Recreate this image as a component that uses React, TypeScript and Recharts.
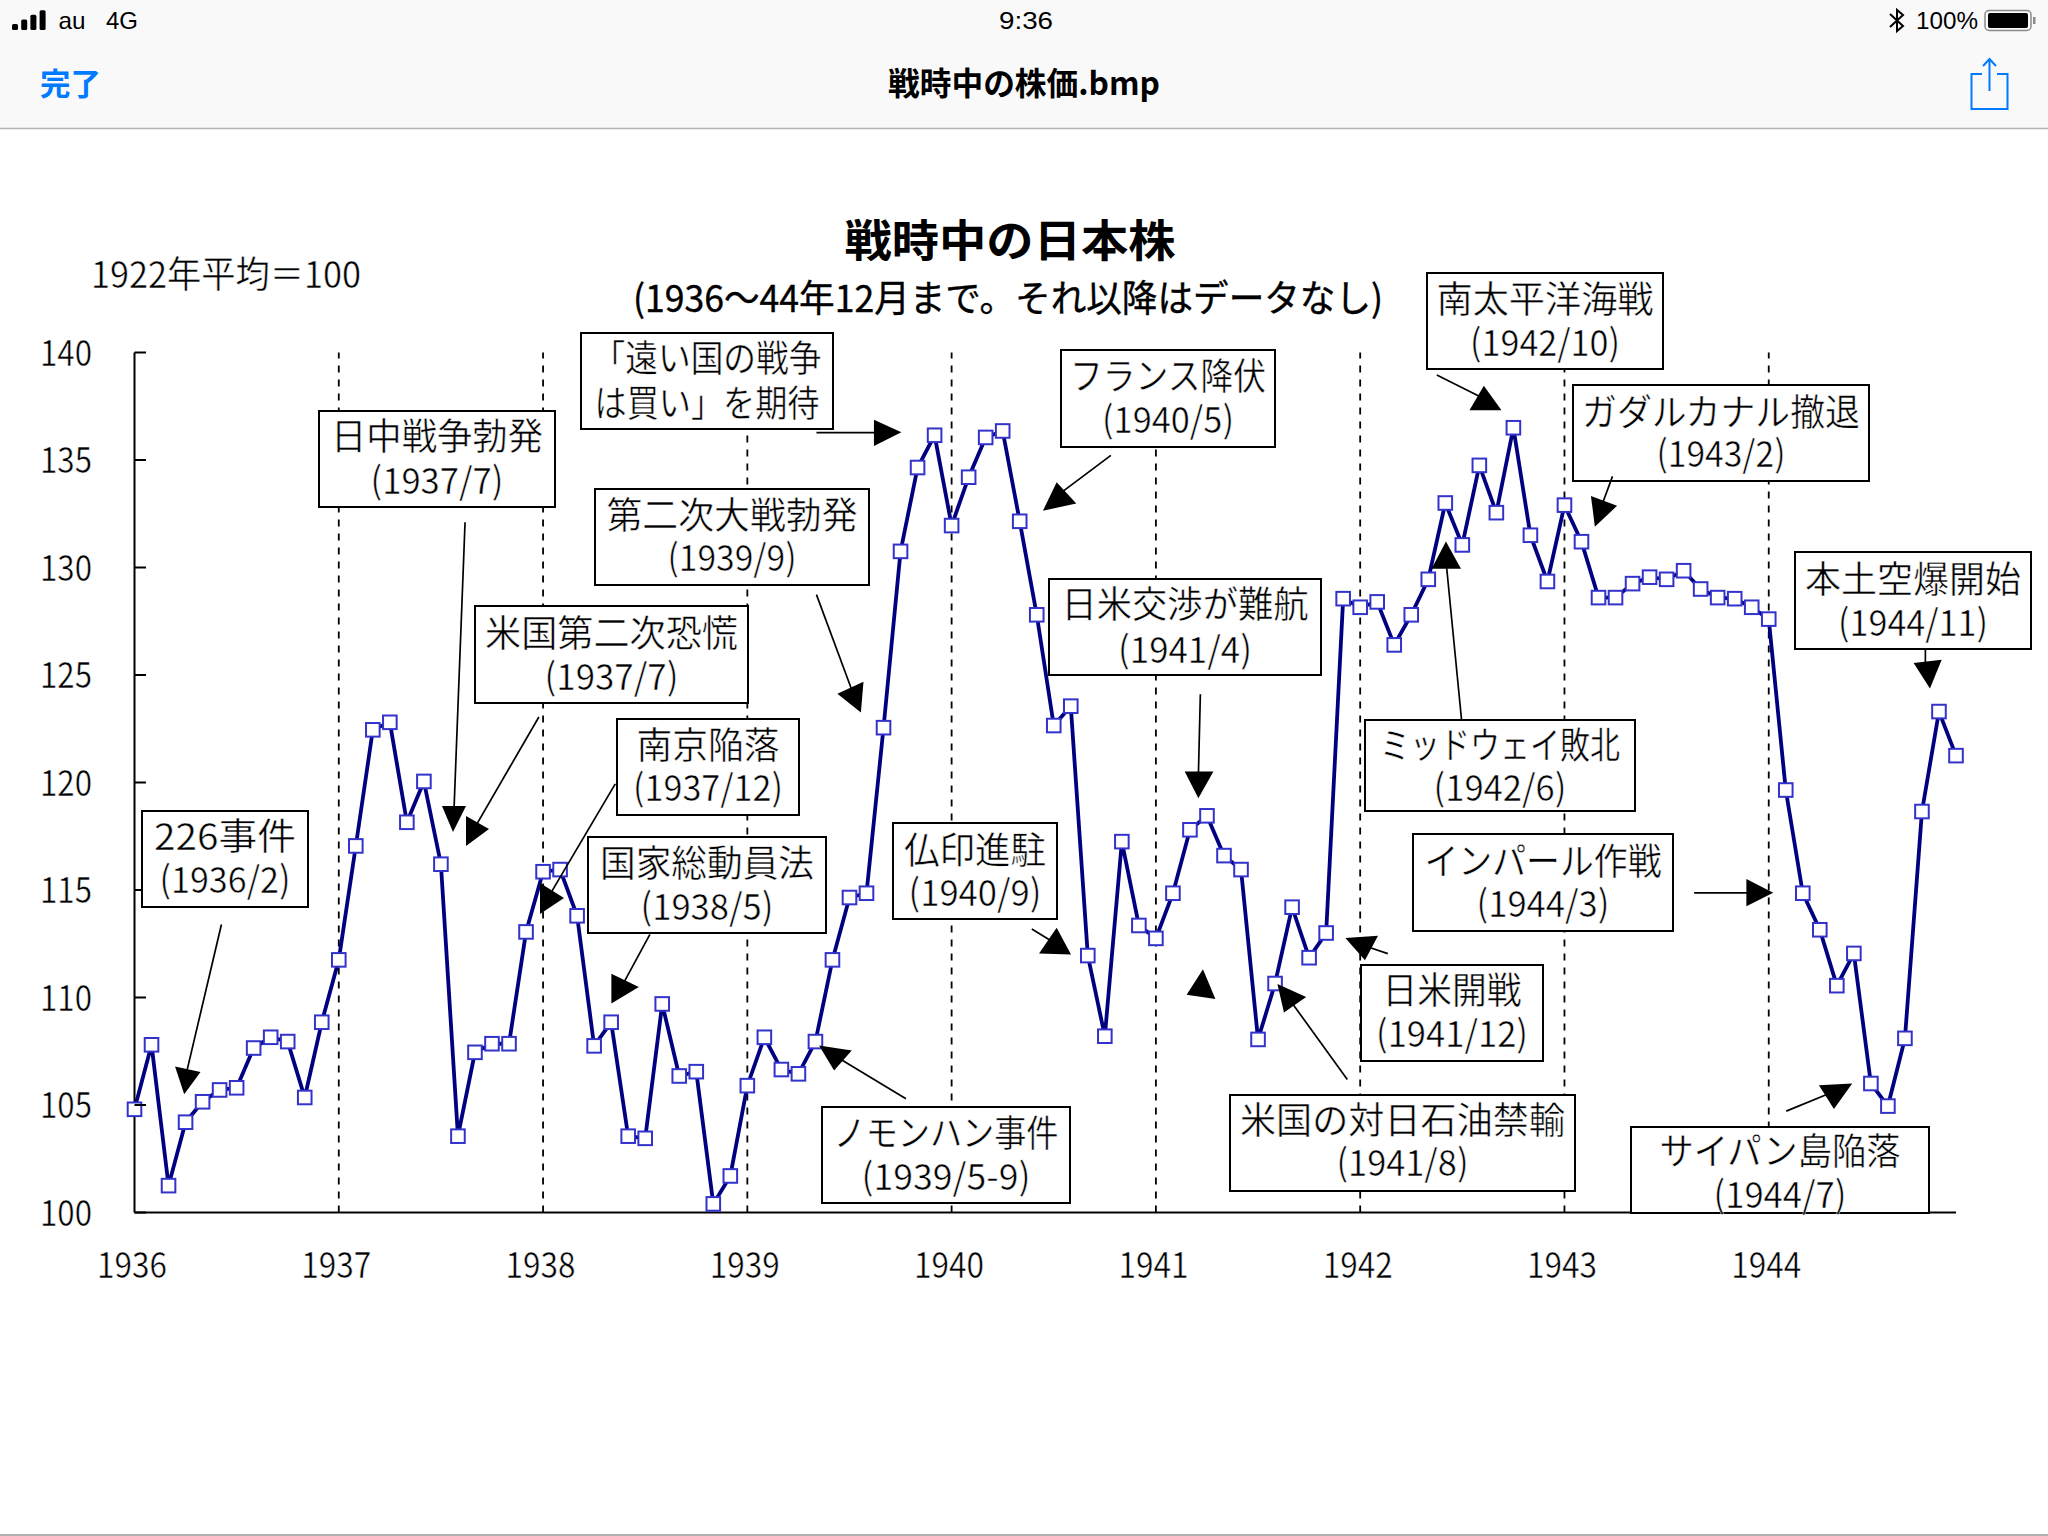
import React from "react";
import { LineChart, Line, XAxis, YAxis, ReferenceLine } from "recharts";

const years = ["1936", "1937", "1938", "1939", "1940", "1941", "1942", "1943", "1944"];
const months = ["01", "02", "03", "04", "05", "06", "07", "08", "09", "10", "11", "12"];
const values1936 = [104.8, 107.8, 101.25, 104.2, 105.15, 105.7, 105.8, 107.65, 108.15, 107.95, 105.35, 108.85];
const values1937 = [111.75, 117.05, 122.45, 122.8, 118.15, 120.05, 116.2, 103.55, 107.45, 107.85, 107.85, 113.05];
const values1938 = [115.85, 115.95, 113.8, 107.75, 108.85, 103.55, 103.45, 109.7, 106.35, 106.55, 100.4, 101.7];
const values1939 = [105.9, 108.15, 106.65, 106.45, 107.95, 111.75, 114.65, 114.85, 122.55, 130.75, 134.65, 136.15];
const values1940 = [131.95, 134.2, 136.05, 136.35, 132.15, 127.8, 122.65, 123.55, 111.95, 108.2, 117.25, 113.35];
const values1941 = [112.75, 114.85, 117.8, 118.45, 116.6, 115.95, 108.05, 110.65, 114.2, 111.85, 113.0, 128.55];
const values1942 = [128.15, 128.4, 126.4, 127.8, 129.45, 133.0, 131.05, 134.75, 132.55, 136.5, 131.5, 129.35];
const values1943 = [132.9, 131.2, 128.6, 128.6, 129.25, 129.55, 129.45, 129.85, 129.0, 128.6, 128.55, 128.15];
const values1944 = [127.6, 119.65, 114.85, 113.15, 110.55, 112.05, 106.0, 104.95, 108.1, 118.65, 123.3, 121.25];
const yTicks = [100, 105, 110, 115, 120, 125, 130, 135, 140];

const allValues = [values1936, values1937, values1938, values1939, values1940, values1941, values1942, values1943, values1944];
const rows = years.flatMap((y, yi) => months.map((m, mi) => ({ month: `${y}-${m}`, year: y, value: allValues[yi][mi] })));
const yearTicks = years.map((y) => `${y}-01`);

// annotation texts: [line1, line2]
const noteTexts = [
  ["日中戦争勃発", "(1937/7)"],
  ["「遠い国の戦争", "は買い」を期待"],
  ["第二次大戦勃発", "(1939/9)"],
  ["米国第二次恐慌", "(1937/7)"],
  ["南京陥落", "(1937/12)"],
  ["国家総動員法", "(1938/5)"],
  ["226事件", "(1936/2)"],
  ["仏印進駐", "(1940/9)"],
  ["ノモンハン事件", "(1939/5-9)"],
  ["フランス降伏", "(1940/5)"],
  ["日米交渉が難航", "(1941/4)"],
  ["南太平洋海戦", "(1942/10)"],
  ["ガダルカナル撤退", "(1943/2)"],
  ["本土空爆開始", "(1944/11)"],
  ["ミッドウェイ敗北", "(1942/6)"],
  ["インパール作戦", "(1944/3)"],
  ["日米開戦", "(1941/12)"],
  ["米国の対日石油禁輸", "(1941/8)"],
  ["サイパン島陥落", "(1944/7)"],
];

// layout of the annotations: box x0,y0,x1,y1, line centres y1,y2, text widths w1,w2
const noteLayout = [
  [319, 411, 555, 507, 437, 481, 212, 133],
  [581, 333, 833, 429, 359, 404, 229, 225],
  [595, 489, 869, 585, 516, 558, 251, 129],
  [475, 606, 748, 703, 634, 677, 253, 134],
  [617, 719, 799, 815, 746, 788, 143, 150],
  [588, 837, 826, 933, 864, 907, 214, 133],
  [142, 811, 308, 907, 837, 880, 142, 131],
  [893, 823, 1057, 919, 851, 893, 142, 133],
  [822, 1107, 1070, 1203, 1134, 1177, 225, 169],
  [1061, 350, 1275, 447, 377, 420, 196, 132],
  [1049, 579, 1321, 675, 605, 650, 247, 134],
  [1427, 273, 1663, 369, 300, 343, 217, 150],
  [1573, 385, 1869, 481, 413, 454, 278, 129],
  [1795, 552, 2031, 649, 580, 623, 216, 150],
  [1365, 720, 1635, 811, 746, 788, 240, 133],
  [1413, 834, 1673, 931, 862, 904, 237, 133],
  [1361, 965, 1543, 1061, 991, 1034, 139, 152],
  [1230, 1095, 1575, 1191, 1121, 1163, 325, 132],
  [1631, 1127, 1929, 1213, 1152, 1195, 241, 133],
];

// helpers to place annotation geometry measured on the page
const q = (ox: number, oy: number) => (x: number, y: number): [number, number] => [ox + x / 1.531, oy + y / 2.24];
const A = q(0, 0);
const B = q(1024, 0);
const C = q(0, 650);
const D = q(1024, 650);

type P = [number, number];
const arrows: { l?: [P, P]; t: [P, P, P] }[] = [
  { l: [C(339, 615), C(285, 950)], t: [C(268, 933), C(307, 945), C(282, 995)] },
  { l: [A(712, 1170), C(695, 360)], t: [[442, 806], [466, 806], [453, 832]] },
  { l: [C(825, 150), C(730, 390)], t: [[466, 816], [489, 829], [466, 846]] },
  { l: [C(942, 300), C(845, 540)], t: [[540, 883], [564, 898], [540, 914]] },
  { l: [C(995, 637), C(955, 745)], t: [C(936, 725), C(978, 755), C(936, 792)] },
  { l: [C(1387, 1005), C(1285, 915)], t: [C(1254, 886), C(1304, 897), C(1277, 942)] },
  { l: [A(1250, 1332), C(1303, 85)], t: [C(1322, 71), C(1282, 98), C(1318, 140)] },
  { l: [A(1250, 969), A(1345, 969)], t: [A(1338, 940), A(1380, 968), A(1338, 999)] },
  { l: [B(133, 1020), B(60, 1100)], t: [B(50, 1080), B(80, 1128), B(29, 1144)] },
  { l: [B(632, 840), B(700, 890)], t: [B(704, 864), B(731, 919), B(682, 919)] },
  { l: [B(901, 1067), B(885, 1130)], t: [B(868, 1111), B(908, 1133), B(874, 1180)] },
  { l: [B(1380, 1454), B(1380, 1490)], t: [B(1362, 1485), B(1405, 1478), B(1387, 1542)] },
  { l: [D(270, 99), D(267, 280)], t: [D(246, 272), D(290, 272), D(267, 332)] },
  { l: [B(647, 1270), D(670, 158)], t: [B(646, 1213), B(669, 1274), B(624, 1274)] },
  { l: [D(12, 625), D(40, 650)], t: [D(50, 622), D(72, 682), D(23, 680)] },
  { t: [D(274, 715), D(293, 782), D(249, 772)] },
  { l: [D(495, 962), D(410, 790)], t: [D(388, 748), D(432, 777), D(398, 812)] },
  { l: [D(557, 680), D(520, 662)], t: [D(492, 645), D(542, 640), D(522, 695)] },
  { l: [D(1026, 544), D(1110, 544)], t: [D(1106, 513), D(1147, 544), D(1106, 574)] },
  { l: [D(1167, 1033), D(1230, 995)], t: [D(1217, 975), D(1268, 971), D(1240, 1028)] },
];

const JP = '"Noto Sans CJK JP", sans-serif';
const UI = '"Liberation Sans", sans-serif';

// thin = white hairline over the glyphs, the reference's bitmap font has very thin strokes
const Label = ({ cx, cy, w, size = 37, weight = 400, color = "#000", family = JP, thin = 0.5, bold = 0, children }: any) => (
  <text
    x={cx}
    y={cy - (family === JP ? 3 : 0)}
    textAnchor="middle"
    dominantBaseline="central"
    textLength={w}
    lengthAdjust="spacingAndGlyphs"
    fontFamily={family}
    fontSize={size}
    fontWeight={weight}
    fill={color}
    stroke={bold ? color : thin ? "#fff" : "none"}
    strokeWidth={bold || thin}
  >
    {children}
  </text>
);

const YTick = ({ x, y, payload }: any) => (
  <g>
    <line x1={x + 41.5} x2={x + 53} y1={y} y2={y} stroke="#000" strokeWidth={2} />
    <Label cx={x - 27} cy={y} w={52}>{payload.value}</Label>
  </g>
);

const XTick = ({ x, y, payload }: any) => (
  <Label cx={x - 2.5} cy={y} w={70}>{payload.value.slice(0, 4)}</Label>
);

const Marker = ({ cx, cy, index }: any) => (
  <rect key={index} x={cx - 6.8} y={cy - 6.8} width={13.6} height={13.6} fill="#fff" stroke="#3333cc" strokeWidth={2} />
);

const Header = () => (
  <g>
    <rect x={0} y={0} width={2048} height={128} fill="#f9f9f9" />
    <line x1={0} x2={2048} y1={128.5} y2={128.5} stroke="#b2b2b2" strokeWidth={1.5} />
    {[0, 1, 2, 3].map((i) => (
      <rect key={i} x={12 + i * 9.2} y={24 - i * 4.6} width={6} height={6 + i * 4.6} rx={1.5} fill="#000" />
    ))}
    <Label cx={72} cy={20} w={27} size={24} family={UI} thin={0}>au</Label>
    <Label cx={122} cy={20} w={32} size={24} family={UI} thin={0}>4G</Label>
    <Label cx={1026} cy={20} w={54} size={24} family={UI} thin={0}>9:36</Label>
    <path d="M1890 14 L1903 26 L1897 31 L1897 10 L1903 15 L1890 27" fill="none" stroke="#000" strokeWidth={2} />
    <Label cx={1947} cy={20} w={62} size={24} family={UI} thin={0}>100%</Label>
    <rect x={1985} y={10.5} width={46} height={20} rx={4} fill="none" stroke="#8a8a8a" strokeWidth={1.5} />
    <rect x={1988} y={13} width={40} height={15} rx={2} fill="#000" />
    <rect x={2033} y={17} width={2.5} height={7} fill="#8a8a8a" />
    <Label cx={70.5} cy={84} w={61} size={31} weight={700} color="#007aff" thin={0}>完了</Label>
    <Label cx={1024} cy={84} w={272} size={32} weight={700} thin={0}>戦時中の株価.bmp</Label>
    <path d="M1982 74 L1971.5 74 L1971.5 109 L2007.5 109 L2007.5 74 L1997 74" fill="none" stroke="#007aff" strokeWidth={2} />
    <path d="M1989.5 91 L1989.5 59 M1983 66 L1989.5 59 L1996 66" fill="none" stroke="#007aff" strokeWidth={2} />
    <line x1={0} x2={2048} y1={1535} y2={1535} stroke="#b2b2b2" strokeWidth={2} />
  </g>
);

const Overlay = () => (
  <svg width={2048} height={1536} style={{ position: "absolute", left: 0, top: 0, pointerEvents: "none" }}>
    <Header />
    <Label cx={1010} cy={241} w={331} size={44} weight={700} thin={0}>戦時中の日本株</Label>
    <Label cx={1008} cy={299} w={750} size={37} thin={0} bold={0.4}>(1936～44年12月まで。それ以降はデータなし)</Label>
    <Label cx={226} cy={275} w={270}>1922年平均＝100</Label>
    {noteTexts.map(([a, b], i) => {
      const [x0, y0, x1, y1, l1, l2, w1, w2] = noteLayout[i];
      const cx = (x0 + x1) / 2;
      return (
        <g key={i}>
          <rect x={x0} y={y0} width={x1 - x0} height={y1 - y0} fill="#fff" stroke="#000" strokeWidth={2} />
          <Label cx={cx} cy={l1} w={w1}>{a}</Label>
          <Label cx={cx} cy={l2} w={w2}>{b}</Label>
        </g>
      );
    })}
    {arrows.map((a, i) => (
      <g key={i}>
        {a.l && <line x1={a.l[0][0]} y1={a.l[0][1]} x2={a.l[1][0]} y2={a.l[1][1]} stroke="#000" strokeWidth={1.7} />}
        <polygon points={a.t.map((p) => p.join(",")).join(" ")} fill="#000" />
      </g>
    ))}
  </svg>
);

export default function App() {
  return (
    <div style={{ position: "absolute", left: 0, top: 0, width: 2048, height: 1536, background: "#fff", overflow: "hidden" }}>
      <LineChart width={2048} height={1536} data={rows} margin={{ top: 352.5, right: 92, bottom: 0, left: 0 }}>
        <XAxis
          dataKey="month"
          scale="point"
          ticks={yearTicks}
          interval={0}
          height={323.5}
          tickSize={0}
          tickMargin={52}
          tick={<XTick />}
          axisLine={{ stroke: "#000", strokeWidth: 2 }}
          tickLine={false}
        />
        <YAxis
          domain={[100, 140]}
          ticks={yTicks}
          interval={0}
          width={134.5}
          tickSize={0}
          tickMargin={41.5}
          tick={<YTick />}
          axisLine={{ stroke: "#000", strokeWidth: 2 }}
          tickLine={false}
        />
        {yearTicks.slice(1).map((t) => (
          <ReferenceLine key={t} x={t} stroke="#000" strokeWidth={1.8} strokeDasharray="7 7" />
        ))}
        <Line
          dataKey="value"
          type="linear"
          stroke="#000080"
          strokeWidth={3.8}
          dot={(p: any) => <Marker key={p.index} {...p} />}
          isAnimationActive={false}
        />
      </LineChart>
      <Overlay />
    </div>
  );
}
